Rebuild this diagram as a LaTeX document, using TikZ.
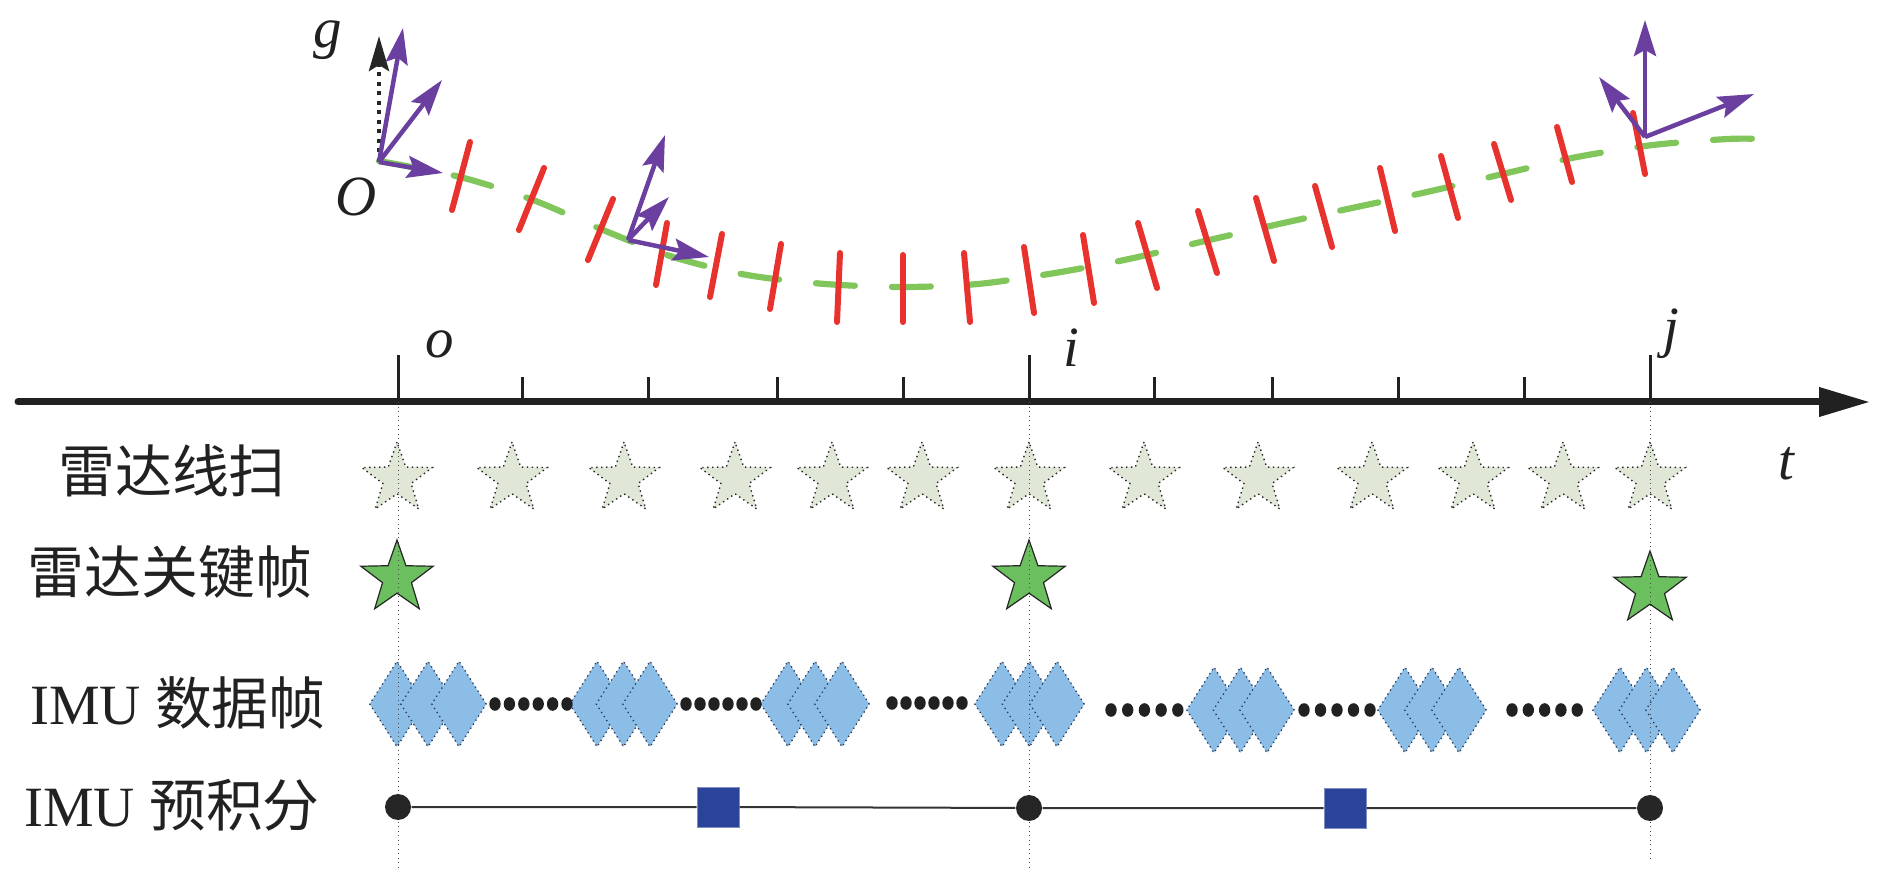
\documentclass[tikz,border=0pt]{standalone}
\usepackage{fontspec}
\setmainfont{Liberation Serif}
\newfontfamily\cjk{Noto Sans CJK SC}
\usepackage{tikz}
\usetikzlibrary{shapes.geometric,arrows.meta}
\definecolor{scanfill}{RGB}{225,231,215}
\definecolor{keyfill}{RGB}{107,191,94}
\definecolor{imufill}{RGB}{139,189,230}
\definecolor{imudraw}{RGB}{40,55,85}
\definecolor{boxfill}{RGB}{43,68,153}
\definecolor{framecol}{RGB}{107,63,160}
\definecolor{trajcol}{RGB}{128,198,90}
\definecolor{scancol}{RGB}{232,50,46}

\begin{document}
\begin{tikzpicture} [
	x=0.1mm,y=-0.1mm,
	font=\fontsize{16.2}{19}\selectfont,
	text=black!87,
	nscan/.style={
		star,star points=5,star point ratio=2.5,minimum size=7.4mm,inner sep=0pt,
		fill=scanfill,draw=black!85,densely dotted,line width=0.14mm
	},
	nkey/.style={
		star,star points=5,star point ratio=2.5,minimum size=7.6mm,inner sep=0pt,
		fill=keyfill,draw=black!85,line width=0.12mm
	},
	nimu/.style={
		diamond,minimum width=5.5mm,minimum height=8.6mm,inner sep=0pt,
		fill=imufill,draw=imudraw,densely dotted,line width=0.13mm
	},
	npre/.style={
		circle,minimum size=2.6mm,inner sep=0pt,fill=black!85
	},
	nbox/.style={
		rectangle,minimum width=4.2mm,minimum height=4mm,inner sep=0pt,
		fill=boxfill,draw=boxfill!60!white,line width=0.1mm
	},
	nrow/.style={anchor=center},
	nvar/.style={anchor=base,font=\fontsize{16.2}{19}\selectfont\itshape},
	ltraj/.style={trajcol,line width=0.62mm,line cap=round,dash pattern=on 3.9mm off 3.7mm},
	lscan/.style={scancol,line width=0.6mm,line cap=round},
	lframe/.style={framecol,line width=0.45mm,-{Stealth[length=3.6mm,width=2.2mm,inset=0.6mm]}},
	lgrav/.style={black!85,line width=0.45mm,dash pattern=on 0.4mm off 0.55mm,
		-{Stealth[length=3.5mm,width=2mm,inset=0.6mm]}},
	lguide/.style={black!70,line width=0.1mm,densely dotted},
	laxis/.style={black!87,line width=0.7mm,line cap=round,-{Triangle[length=5.1mm,width=2.8mm]}},
	ltick/.style={black!87,line width=0.3mm},
	lpre/.style={black!80,line width=0.2mm}
]
\useasboundingbox (0,0) rectangle (1890,872);

\node [nrow]	(rowscan)	at (172,471)	{\cjk 雷达线扫};
\node [nrow]	(rowkey)	at (170,572)	{\cjk 雷达关键帧};
\node [nrow]	(rowimu)	at (178,703)	{IMU {\cjk 数据帧}};
\node [nrow]	(rowpre)	at (172,805)	{IMU {\cjk 预积分}};

\coordinate (ta) at (18,402);
\coordinate (tb) at (1870,402);
\draw [laxis]	(ta) -- (tb);
\foreach \x in {522,648,777,903,1154,1272,1398,1524}
	\draw [ltick]	(\x,402) -- (\x,377);
\foreach \x/\n in {398/o,1029/i,1650/j}{
	\coordinate (k\n) at (\x,402);
	\draw [ltick]	(k\n) -- ++(0,-47);
}

\foreach \x [count=\n] in {397,512,624,735,832,922,1029,1144,1258,1372,1473,1563,1650}
	\node [nscan]	(scan\n)	at (\x,479)	{};
\node [nkey]	(key1)	at (397,578)	{};
\node [nkey]	(key2)	at (1029,578)	{};
\node [nkey]	(key3)	at (1650,589)	{};

\foreach \g/\x/\s/\y in {1/397/31/704,2/597/26.5/704,3/788/27/704,4/1002/27.5/704,
		5/1214/26.5/710,6/1405/27/710,7/1620/26.5/710}
	\foreach \k in {1,2,3}
		\node [nimu]	(imu\g\k)	at ({\x+(\k-1)*\s},\y)	{};
\foreach \x/\y/\s/\m in {495/704/14.4/6,686/704/14/6,892/703/14/6,
		1111/710/16.7/5,1304/710/16.5/5,1512/710/16.3/5}
	\foreach \k in {1,...,\m}
		\fill [black!87]	({\x+(\k-1)*\s},\y) ellipse [x radius=0.57mm,y radius=0.68mm];

\draw [lguide]	(ko) -- ++(0,466);
\draw [lguide]	(ki) -- ++(0,470);
\draw [lguide]	(kj) -- ++(0,458);

\node [npre]	(pre1)	at (398,807)	{};
\node [nbox]	(box1)	at (718,807)	{};
\node [npre]	(pre2)	at (1029,808)	{};
\node [nbox]	(box2)	at (1345,808)	{};
\node [npre]	(pre3)	at (1650,808)	{};
\draw [lpre]	(pre1) -- (box1) -- (pre2) -- (box2) -- (pre3);

\node [nvar]	(vg)	at (328,48)	{g};
\node [nvar]	(vO)	at (356,216)	{O};
\node [nvar]	(vo)	at (440,358)	{o};
\node [nvar]	(vi)	at (1071,367)	{i};
\node [nvar]	(vj)	at (1671,347)	{j};
\node [nvar]	(vt)	at (1786,480)	{t};

\draw [ltraj] plot [smooth] coordinates {(379,161) (460,177) (533,200) (603,230) (673,257)
	(747,275) (825,284) (903,287) (978,284) (1055,273) (1129,259) (1205,241) (1279,224)
	(1352,208) (1427,192) (1507,173) (1577,157) (1653,145) (1728,139) (1762,139)};
\foreach \ax/\ay/\bx/\by in {470/142/452/210,544/168/519/230,613/199/588/260,667/223/656/285,
		722/234/710/297,781/244/770/309,840/253/837/322,903/255/903/322,964/253/970/322,
		1024/247/1034/313,1083/235/1094/303,1138/223/1157/288,1198/211/1217/273,
		1256/198/1274/261,1315/186/1332/247,1380/168/1395/231,1441/156/1458/218,
		1494/144/1511/200,1557/127/1572/182,1633/113/1645/174}
	\draw [lscan]	(\ax,\ay) -- (\bx,\by);

\coordinate (fo) at (379,162);
\draw [lgrav]	(fo) -- ++(0,-126);
\draw [lframe]	(fo) -- ++(24,-134);
\draw [lframe]	(fo) -- ++(63,-82);
\draw [lframe]	(fo) -- ++(64,11);
\coordinate (fi) at (628,240);
\draw [lframe]	(fi) -- ++(37,-105);
\draw [lframe]	(fi) -- ++(41,-43);
\draw [lframe]	(fi) -- ++(81,17);
\coordinate (fj) at (1645,137);
\draw [lframe]	(fj) -- ++(0,-117);
\draw [lframe]	(fj) -- ++(-46,-60);
\draw [lframe]	(fj) -- ++(109,-43);
\end{tikzpicture}
\end{document}
